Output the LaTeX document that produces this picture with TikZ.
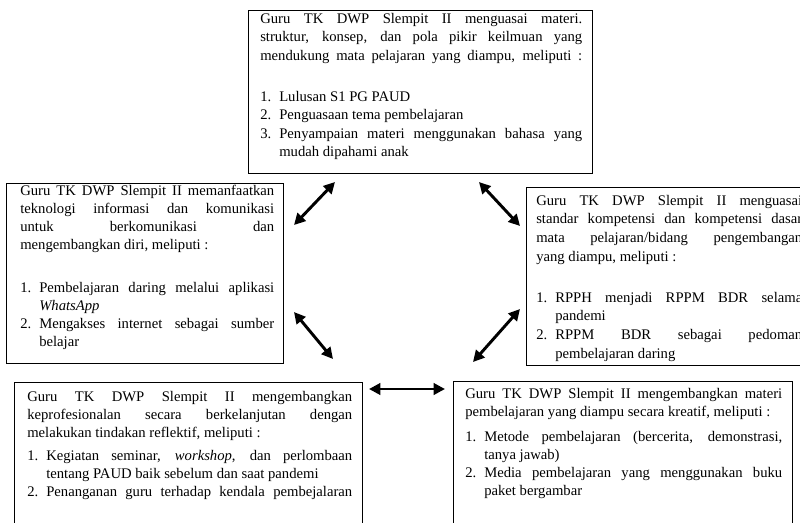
\documentclass[tikz,border=0pt]{standalone}
\usepackage{fontspec}
\setmainfont{Liberation Serif}
\usetikzlibrary{arrows.meta,fit}
\newlength\litemind
\setlength\litemind{14.25pt}
\newcommand\litem[2]{\par\noindent\hangindent=\litemind\hangafter=1\makebox[\litemind][l]{#1}#2}
\newcommand\boxstart{\hyphenpenalty=10000\exhyphenpenalty=10000\tolerance=10000\lefthyphenmin=100\righthyphenmin=100\relax\leavevmode\vrule height 10pt depth 0pt width 0pt\relax}
\tikzset{
  frame/.style={draw=black, line width=0.6pt, inner sep=0pt},
  txt/.style={anchor=north west, inner sep=0pt, align=justify, font=\fontsize{11}{13.5}\selectfont},
  dbl/.style={{Triangle[length=8.5pt,width=8.5pt]}-{Triangle[length=8.5pt,width=8.5pt]}, line width=2.2pt},
}
\begin{document}
\begin{tikzpicture}[x=0.75pt,y=-0.75pt]
\useasboundingbox (0,0) rectangle (800,522);
\clip (0,0) rectangle (800,522);
\fill[white] (0,0) rectangle (800,522);
% frames
\node[frame, fit={(248,10)(592,173)}] (topbox) {};
\node[frame, fit={(6,183)(283,363)}] (leftbox) {};
\node[frame, fit={(526,187)(814,365)}] (rightbox) {};
\node[frame, fit={(14,382)(362,545)}] (blbox) {};
\node[frame, fit={(453,381)(792,545)}] (brbox) {};
% texts (first baseline = node top + 13.33)
\node[txt, text width=241.5pt] (toptxt) at (260,9.67) {\fontsize{11}{13.875}\selectfont
\boxstart Guru TK DWP Slempit II menguasai materi.\linebreak struktur, konsep, dan pola pikir keilmuan yang\linebreak mendukung mata pelajaran yang diampu, meliputi :{\parfillskip=0pt\par}
\fontsize{11}{13.875}\selectfont\vspace{16.875pt}
\litem{1.}{Lulusan S1 PG PAUD}
\litem{2.}{Penguasaan tema pembelajaran}
\litem{3.}{Penyampaian materi menggunakan bahasa yang\linebreak mudah dipahami anak}\par};
\node[txt, text width=190.5pt] (lefttxt) at (20,181.67) {\fontsize{11}{13.5}\selectfont
\boxstart Guru TK DWP Slempit II memanfaatkan\linebreak teknologi informasi dan komunikasi\linebreak untuk berkomunikasi dan\linebreak mengembangkan diri, meliputi :\par
\fontsize{11}{13.5}\selectfont\vspace{18.75pt}
\litem{1.}{Pembelajaran daring melalui aplikasi\linebreak \textit{WhatsApp}}
\litem{2.}{Mengakses internet sebagai sumber\linebreak belajar}\par};
\node[txt, text width=199.5pt] (righttxt) at (536,191.67) {\fontsize{11}{14}\selectfont
\boxstart Guru TK DWP Slempit II menguasai\linebreak standar kompetensi dan kompetensi dasar\linebreak mata pelajaran/bidang pengembangan\linebreak yang diampu, meliputi :\par
\fontsize{11}{14}\selectfont\vspace{16.75pt}
\litem{1.}{RPPH menjadi RPPM BDR selama\linebreak pandemi}
\litem{2.}{RPPM BDR sebagai pedoman\linebreak pembelajaran daring}\par};
\node[txt, text width=243.75pt] (bltxt) at (27,387.67) {\fontsize{11}{13.5}\selectfont
\boxstart Guru TK DWP Slempit II mengembangkan\linebreak keprofesionalan secara berkelanjutan dengan\linebreak melakukan tindakan reflektif, meliputi :\par
\fontsize{11}{13.5}\selectfont\vspace{3.75pt}
\litem{1.}{Kegiatan seminar, \textit{workshop}, dan perlombaan\linebreak tentang PAUD baik sebelum dan saat pandemi}
\litem{2.}{Penanganan guru terhadap kendala pembejalaran}{\parfillskip=0pt\par}};
\node[txt, text width=237.75pt] (brtxt) at (465,384.67) {\fontsize{11}{13.5}\selectfont
\boxstart Guru TK DWP Slempit II mengembangkan materi\linebreak pembelajaran yang diampu secara kreatif, meliputi :\par
\fontsize{11}{13.5}\selectfont\vspace{5.25pt}
\litem{1.}{Metode pembelajaran (bercerita, demonstrasi,\linebreak tanya jawab)}
\litem{2.}{Media pembelajaran yang menggunakan buku\linebreak paket bergambar}\par};
% arrows
\coordinate (a1s) at (335,182); \coordinate (a1e) at (294,225);
\coordinate (a2s) at (479,182); \coordinate (a2e) at (520,226);
\coordinate (a3s) at (294,312); \coordinate (a3e) at (333,359);
\coordinate (a4s) at (520,309); \coordinate (a4e) at (473,362);
\coordinate (a5s) at (369,389); \coordinate (a5e) at (445,389);
\draw[dbl] (a1s) -- (a1e);
\draw[dbl] (a2s) -- (a2e);
\draw[dbl] (a3s) -- (a3e);
\draw[dbl] (a4s) -- (a4e);
\draw[dbl] (a5s) -- (a5e);
\end{tikzpicture}
\end{document}
